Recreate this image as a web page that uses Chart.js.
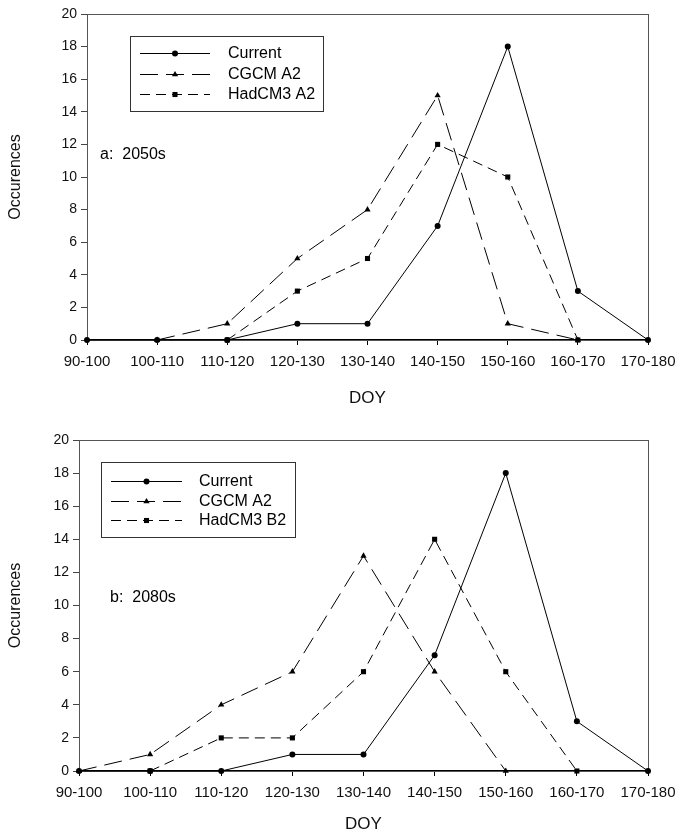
<!DOCTYPE html>
<html>
<head>
<meta charset="utf-8">
<script src="https://cdn.jsdelivr.net/npm/chart.js@4.4.1/dist/chart.umd.min.js"></script>
<style>
  html, body { margin: 0; padding: 0; background: #fff; }
  #wrap { position: relative; width: 678px; height: 835px; }
  canvas { position: absolute; left: 0; }
  #chartA { top: 0; }
  #chartB { top: 420px; }
</style>
</head>
<body>
<div id="wrap">
  <canvas id="chartA" width="678" height="415"></canvas>
  <canvas id="chartB" width="678" height="415"></canvas>
</div>
<script>
// DOY bins on the x axis
const doyBins = ['90-100', '100-110', '110-120', '120-130', '130-140', '140-150', '150-160', '160-170', '170-180'];

// a: 2050s
const currentA = [0, 0, 0, 1, 1, 7, 18, 3, 0];
const cgcmA2_2050 = [null, 0, 1, 5, 8, 15, 1, 0, null];
const hadcm3A2_2050 = [null, null, 0, 3, 5, 12, 10, 0, null];

// b: 2080s
const currentB = [0, 0, 0, 1, 1, 7, 18, 3, 0];
const cgcmA2_2080 = [0, 1, 4, 6, 13, 6, 0, null, null];
const hadcm3B2_2080 = [null, 0, 2, 2, 6, 14, 6, 0, null];

const yMin = 0, yMax = 20, yStep = 2;

const FONT = "'Liberation Sans', Arial, sans-serif";

function drawMarker(ctx, style, x, y, r) {
  ctx.save();
  ctx.setLineDash([]);
  ctx.fillStyle = '#000';
  ctx.beginPath();
  if (style === 'circle') {
    ctx.arc(x, y, r, 0, Math.PI * 2);
  } else if (style === 'rect') {
    const s = r * Math.SQRT1_2;
    ctx.rect(x - s, y - s, 2 * s, 2 * s);
  } else {
    ctx.moveTo(x, y - r);
    ctx.lineTo(x + r * 0.87, y + r * 0.5);
    ctx.lineTo(x - r * 0.87, y + r * 0.5);
    ctx.closePath();
  }
  ctx.fill();
  ctx.restore();
}

// frame around plot + legend box + panel label
const framePlugin = {
  id: 'frame',
  beforeDatasetsDraw(chart, args, opts) {
    const { ctx, chartArea: a } = chart;
    ctx.save();
    ctx.strokeStyle = '#555';
    ctx.lineWidth = 1;
    ctx.strokeRect(a.left + 0.5, a.top + 0.5, a.right - a.left, a.bottom - a.top);
    ctx.restore();
  },
  afterDraw(chart, args, opts) {
    const { ctx } = chart;
    const L = opts.legend;
    ctx.save();
    ctx.fillStyle = '#fff';
    ctx.fillRect(L.x, L.y, L.w, L.h);
    ctx.strokeStyle = '#333';
    ctx.lineWidth = 1;
    ctx.strokeRect(L.x + 0.5, L.y + 0.5, L.w, L.h);
    ctx.font = '16px ' + FONT;
    ctx.textBaseline = 'middle';
    chart.data.datasets.forEach((ds, i) => {
      const y = L.rowY[i];
      ctx.strokeStyle = '#000';
      ctx.lineWidth = 1;
      ctx.setLineDash(ds.borderDash || []);
      ctx.beginPath();
      ctx.moveTo(L.lineX0, y + 0.5);
      ctx.lineTo(L.lineX1, y + 0.5);
      ctx.stroke();
      drawMarker(ctx, ds.pointStyle, (L.lineX0 + L.lineX1) / 2, y + 0.5, ds.pointRadius);
      ctx.setLineDash([]);
      ctx.fillStyle = '#000';
      ctx.fillText(ds.label, L.textX, y + 1);
    });
    ctx.font = '16px ' + FONT;
    ctx.fillText(opts.panel.text, opts.panel.x, opts.panel.y);
    ctx.restore();
  }
};

function makeChart(id, series, names, cfg) {
  const styles = [
    { pointStyle: 'circle', pointRadius: 3, borderDash: [] },
    { pointStyle: 'triangle', pointRadius: 3.6, borderDash: [18, 8] },
    { pointStyle: 'rect', pointRadius: 3.6, borderDash: [10, 6] }
  ];
  new Chart(document.getElementById(id).getContext('2d'), {
    type: 'line',
    data: {
      labels: doyBins,
      datasets: series.map((d, i) => ({
        label: names[i],
        data: d,
        borderColor: '#000',
        backgroundColor: '#000',
        borderWidth: 1,
        borderDash: styles[i].borderDash,
        pointStyle: styles[i].pointStyle,
        pointRadius: styles[i].pointRadius,
        pointBorderWidth: 0,
        pointBackgroundColor: '#000',
        spanGaps: false,
        tension: 0,
        clip: 5,
        order: 3 - i
      }))
    },
    options: {
      responsive: false,
      animation: false,
      devicePixelRatio: 1,
      layout: { padding: { top: cfg.padTop, right: 30, left: 0, bottom: 0 } },
      plugins: {
        legend: { display: false },
        tooltip: { enabled: false },
        frame: { legend: cfg.legend, panel: cfg.panel }
      },
      scales: {
        x: {
          offset: false,
          afterFit: s => { s.height = cfg.xHeight; s.paddingLeft = 0; s.paddingRight = 0; },
          grid: { drawOnChartArea: false, drawTicks: true, tickLength: 5, color: '#000' },
          border: { display: true, color: '#000', width: 1.5 },
          ticks: { color: '#111', font: { family: FONT, size: 15 }, padding: 8, maxRotation: 0, autoSkip: false },
          title: { display: true, text: 'DOY', color: '#111', font: { family: FONT, size: 17 }, padding: { top: 0, bottom: cfg.doyPad } }
        },
        y: {
          min: yMin,
          max: yMax,
          afterFit: s => { s.width = cfg.yWidth; s.paddingTop = 0; s.paddingBottom = 0; },
          grid: { drawOnChartArea: false, drawTicks: true, tickLength: 6, color: '#444' },
          border: { display: true, color: '#444', width: 1 },
          ticks: { stepSize: yStep, color: '#111', font: { family: FONT, size: 14 }, padding: 4 },
          title: { display: true, text: 'Occurences', color: '#111', font: { family: FONT, size: 16 }, padding: { top: 6, bottom: 0 } }
        }
      }
    },
    plugins: [framePlugin]
  });
}

makeChart('chartA', [currentA, cgcmA2_2050, hadcm3A2_2050], ['Current', 'CGCM A2', 'HadCM3 A2'], {
  padTop: 14, xHeight: 75, yWidth: 87, doyPad: 6,
  legend: { x: 130, y: 36, w: 193, h: 75, rowY: [53, 74, 94], lineX0: 140, lineX1: 210, textX: 228 },
  panel: { text: 'a:  2050s', x: 100, y: 155 }
});

makeChart('chartB', [currentB, cgcmA2_2080, hadcm3B2_2080], ['Current', 'CGCM A2', 'HadCM3 B2'], {
  padTop: 20, xHeight: 64, yWidth: 79, doyPad: 0,
  legend: { x: 101, y: 42, w: 194, h: 75, rowY: [61, 81, 100], lineX0: 111, lineX1: 182, textX: 199 },
  panel: { text: 'b:  2080s', x: 110, y: 178 }
});
</script>
</body>
</html>
